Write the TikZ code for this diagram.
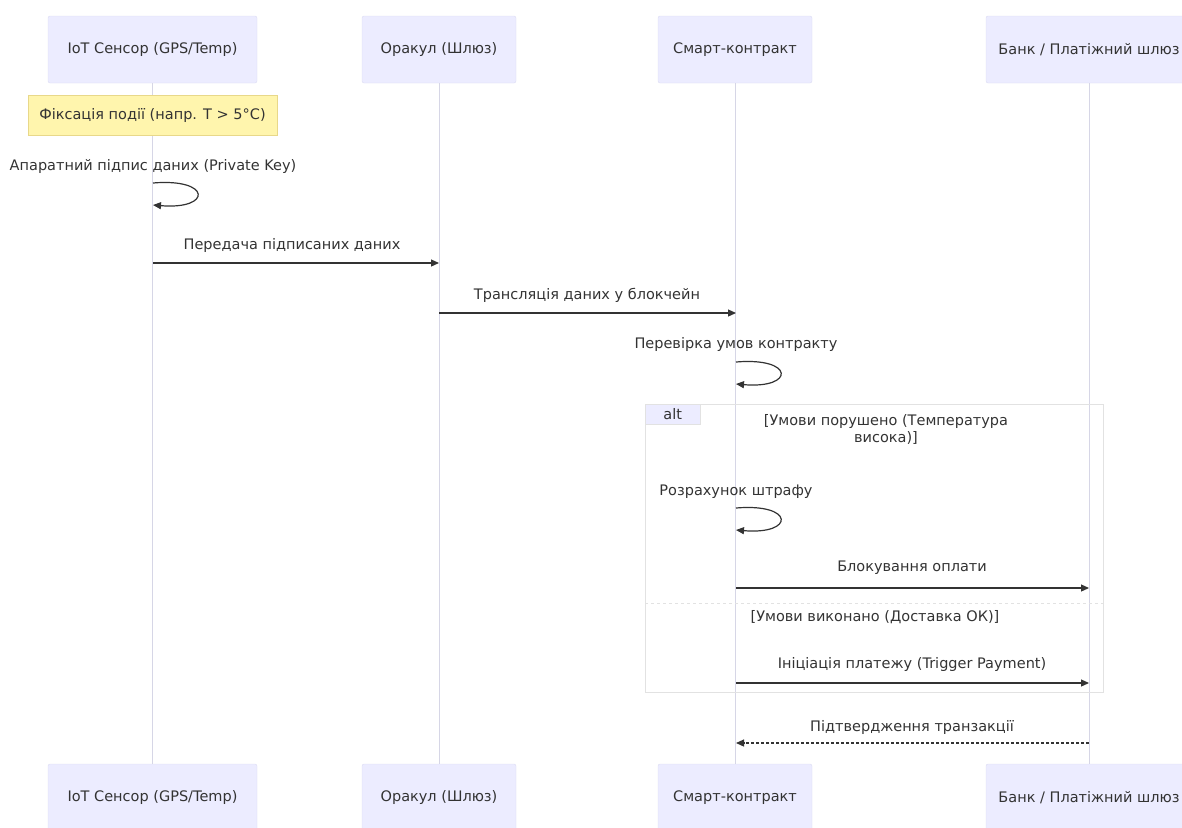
\documentclass[tikz,border=0pt]{standalone}
\usepackage{fontspec}
\setmainfont{DejaVu Sans}
\usetikzlibrary{arrows.meta}
\definecolor{actfill}{HTML}{ECECFF}
\definecolor{actline}{HTML}{DCDCF2}
\definecolor{lifeln}{HTML}{D6D6E6}
\definecolor{notefill}{HTML}{FFF5AD}
\definecolor{noteline}{HTML}{E8D88A}
\definecolor{txt}{HTML}{333333}
\definecolor{altline}{HTML}{E2E2E2}
\tikzset{
  x=1pt, y=-1pt,
  actor/.style={draw=actline, fill=actfill, rounded corners=2pt, minimum height=67pt, text=txt, font=\fontsize{14.5}{17}\selectfont, inner sep=0pt},
  lifeline/.style={draw=lifeln, line width=1pt},
  msg/.style={draw=txt, line width=1.2pt, -{Triangle[length=8pt,width=7pt]}},
  reply/.style={msg, dash pattern=on 3pt off 2pt},
  lbl/.style={text=txt, font=\fontsize{14.5}{17}\selectfont, inner sep=0pt},
  notebox/.style={draw=noteline, fill=notefill, text=txt, font=\fontsize{14.5}{17}\selectfont, minimum width=249pt, minimum height=40pt, inner sep=0pt},
}
\begin{document}
\begin{tikzpicture}
\useasboundingbox (0,0) rectangle (1182,827);
% actors top
\node[actor, minimum width=209pt] (a1) at (152.5,49.5) {IoT Сенсор (GPS/Temp)};
\node[actor, minimum width=154pt] (a2) at (439,49.5) {Оракул (Шлюз)};
\node[actor, minimum width=154pt] (a3) at (735,49.5) {Смарт-контракт};
\node[actor, minimum width=206pt] (a4) at (1089,49.5) {Банк / Платіжний шлюз};
% actors bottom
\node[actor, minimum width=209pt] (b1) at (152.5,797.5) {IoT Сенсор (GPS/Temp)};
\node[actor, minimum width=154pt] (b2) at (439,797.5) {Оракул (Шлюз)};
\node[actor, minimum width=154pt] (b3) at (735,797.5) {Смарт-контракт};
\node[actor, minimum width=206pt] (b4) at (1089,797.5) {Банк / Платіжний шлюз};
% lifelines
\foreach \i in {1,2,3,4}{\draw[lifeline] (a\i.south) -- (b\i.north);}
% alt frame
\draw[altline, line width=1pt] (645,404) rectangle (1103,692);
\node[fill=actfill, draw=altline, minimum width=55pt, minimum height=20pt, inner sep=0pt, text=txt, font=\fontsize{14.5}{17}\selectfont, anchor=north west] (alt) at (645,404) {alt};
\draw[altline, line width=1pt, dashed] (645,603) -- (1103,603);
\node[lbl, align=center] (c1) at (886,429) {[Умови порушено (Температура\\висока)]};
\node[lbl] (c2) at (875,617) {[Умови виконано (Доставка ОК)]};
% note
\node[notebox] (note) at (152.5,115) {Фіксація події (напр. T > 5°C)};
% self message 1
\node[lbl] (l1) at (153,166) {Апаратний підпис даних (Private Key)};
\coordinate (s1a) at (153,183); \coordinate (s1b) at (153,205);
\draw[msg] (s1a) .. controls (212,178) and (212,210) .. (s1b);
% message 2
\node[lbl] (l2) at (292,245) {Передача підписаних даних};
\coordinate (m2a) at (153,263); \coordinate (m2b) at (439,263);
\draw[msg] (m2a) -- (m2b);
% message 3
\node[lbl] (l3) at (587,295) {Трансляція даних у блокчейн};
\coordinate (m3a) at (439,313); \coordinate (m3b) at (736,313);
\draw[msg] (m3a) -- (m3b);
% self 2
\node[lbl] (l4) at (736,344) {Перевірка умов контракту};
\coordinate (s2a) at (736,362); \coordinate (s2b) at (736,384);
\draw[msg] (s2a) .. controls (795,357) and (795,389) .. (s2b);
% self 3
\node[lbl] (l5) at (736,492) {Розрахунок штрафу};
\coordinate (s3a) at (736,508); \coordinate (s3b) at (736,530);
\draw[msg] (s3a) .. controls (795,503) and (795,535) .. (s3b);
% message block
\node[lbl] (l6) at (912,568) {Блокування оплати};
\coordinate (m6a) at (736,588); \coordinate (m6b) at (1089,588);
\draw[msg] (m6a) -- (m6b);
% message trigger
\node[lbl] (l7) at (912,664) {Ініціація платежу (Trigger Payment)};
\coordinate (m7a) at (736,683); \coordinate (m7b) at (1089,683);
\draw[msg] (m7a) -- (m7b);
% reply
\node[lbl] (l8) at (912,727) {Підтвердження транзакції};
\coordinate (m8a) at (1089,743); \coordinate (m8b) at (736,743);
\draw[reply] (m8a) -- (m8b);
\end{tikzpicture}
\end{document}
